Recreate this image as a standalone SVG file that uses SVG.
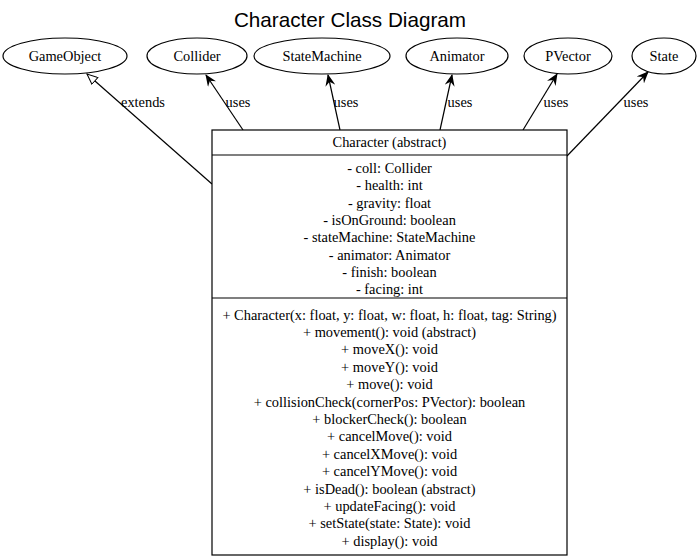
<svg xmlns="http://www.w3.org/2000/svg" width="700" height="560" viewBox="0 0 700 560">
<defs>
<style>
.t{font-family:"Liberation Serif","Times New Roman",serif;font-size:14.4px;fill:#000;text-anchor:middle}
.title{font-family:"Liberation Sans",Arial,sans-serif;font-size:20.7px;fill:#000;text-anchor:middle}
.n{fill:#fff;stroke:#000;stroke-width:1.2}
.e{stroke:#000;stroke-width:1.2;fill:none}
</style>
<marker id="vee" viewBox="0 0 12 10" refX="11" refY="5" markerWidth="12" markerHeight="10" markerUnits="userSpaceOnUse" orient="auto">
<path d="M0,0 L12,5 L0,10 L4,5 Z" fill="#000"/>
</marker>
<marker id="tri" viewBox="0 0 12 10" refX="11" refY="5" markerWidth="12" markerHeight="10" markerUnits="userSpaceOnUse" orient="auto">
<path d="M0.5,0.5 L11,5 L0.5,9.5 Z" fill="#fff" stroke="#000" stroke-width="1"/>
</marker>
</defs>
<rect width="700" height="560" fill="#fff"/>
<text class="title" x="350" y="27">Character Class Diagram</text>
<g id="connectors">
<line class="e" x1="212" y1="184" x2="87" y2="74" marker-end="url(#tri)"/>
<text class="t" x="143" y="107">extends</text>
<line class="e" x1="243" y1="130" x2="206" y2="75" marker-end="url(#vee)"/>
<text class="t" x="238" y="107">uses</text>
<line class="e" x1="340" y1="130" x2="328" y2="75" marker-end="url(#vee)"/>
<text class="t" x="346" y="107">uses</text>
<line class="e" x1="440" y1="130" x2="452" y2="75" marker-end="url(#vee)"/>
<text class="t" x="460" y="107">uses</text>
<line class="e" x1="523" y1="130" x2="557" y2="74" marker-end="url(#vee)"/>
<text class="t" x="556" y="107">uses</text>
<line class="e" x1="567" y1="156" x2="648" y2="72" marker-end="url(#vee)"/>
<text class="t" x="636" y="107">uses</text>
</g>
<g id="GameObject"><ellipse class="n" cx="65" cy="56" rx="62" ry="18"/><text class="t" x="65" y="61">GameObject</text></g>
<g id="Collider"><ellipse class="n" cx="197" cy="56" rx="50" ry="18"/><text class="t" x="197" y="61">Collider</text></g>
<g id="StateMachine"><ellipse class="n" cx="322" cy="56" rx="68" ry="18"/><text class="t" x="322" y="61">StateMachine</text></g>
<g id="Animator"><ellipse class="n" cx="457" cy="56" rx="51" ry="18"/><text class="t" x="457" y="61">Animator</text></g>
<g id="PVector"><ellipse class="n" cx="568" cy="56" rx="44" ry="18"/><text class="t" x="568" y="61">PVector</text></g>
<g id="State"><ellipse class="n" cx="664" cy="56" rx="32" ry="18"/><text class="t" x="664" y="61">State</text></g>
<g id="Character">
<rect class="n" x="212" y="130" width="355" height="425"/>
<line class="e" x1="212" y1="155" x2="567" y2="155"/>
<line class="e" x1="212" y1="298" x2="567" y2="298"/>
<text class="t" x="389.5" y="147">Character (abstract)</text>
<text class="t" x="389.5" y="173">- coll: Collider</text>
<text class="t" x="389.5" y="190">- health: int</text>
<text class="t" x="389.5" y="208">- gravity: float</text>
<text class="t" x="389.5" y="225">- isOnGround: boolean</text>
<text class="t" x="389.5" y="242">- stateMachine: StateMachine</text>
<text class="t" x="389.5" y="260">- animator: Animator</text>
<text class="t" x="389.5" y="277">- finish: boolean</text>
<text class="t" x="389.5" y="294">- facing: int</text>
<text class="t" x="389.5" y="320">+ Character(x: float, y: float, w: float, h: float, tag: String)</text>
<text class="t" x="389.5" y="337">+ movement(): void (abstract)</text>
<text class="t" x="389.5" y="354">+ moveX(): void</text>
<text class="t" x="389.5" y="372">+ moveY(): void</text>
<text class="t" x="389.5" y="389">+ move(): void</text>
<text class="t" x="389.5" y="407">+ collisionCheck(cornerPos: PVector): boolean</text>
<text class="t" x="389.5" y="424">+ blockerCheck(): boolean</text>
<text class="t" x="389.5" y="441">+ cancelMove(): void</text>
<text class="t" x="389.5" y="459">+ cancelXMove(): void</text>
<text class="t" x="389.5" y="476">+ cancelYMove(): void</text>
<text class="t" x="389.5" y="494">+ isDead(): boolean (abstract)</text>
<text class="t" x="389.5" y="511">+ updateFacing(): void</text>
<text class="t" x="389.5" y="528">+ setState(state: State): void</text>
<text class="t" x="389.5" y="546">+ display(): void</text>
</g>
</svg>
